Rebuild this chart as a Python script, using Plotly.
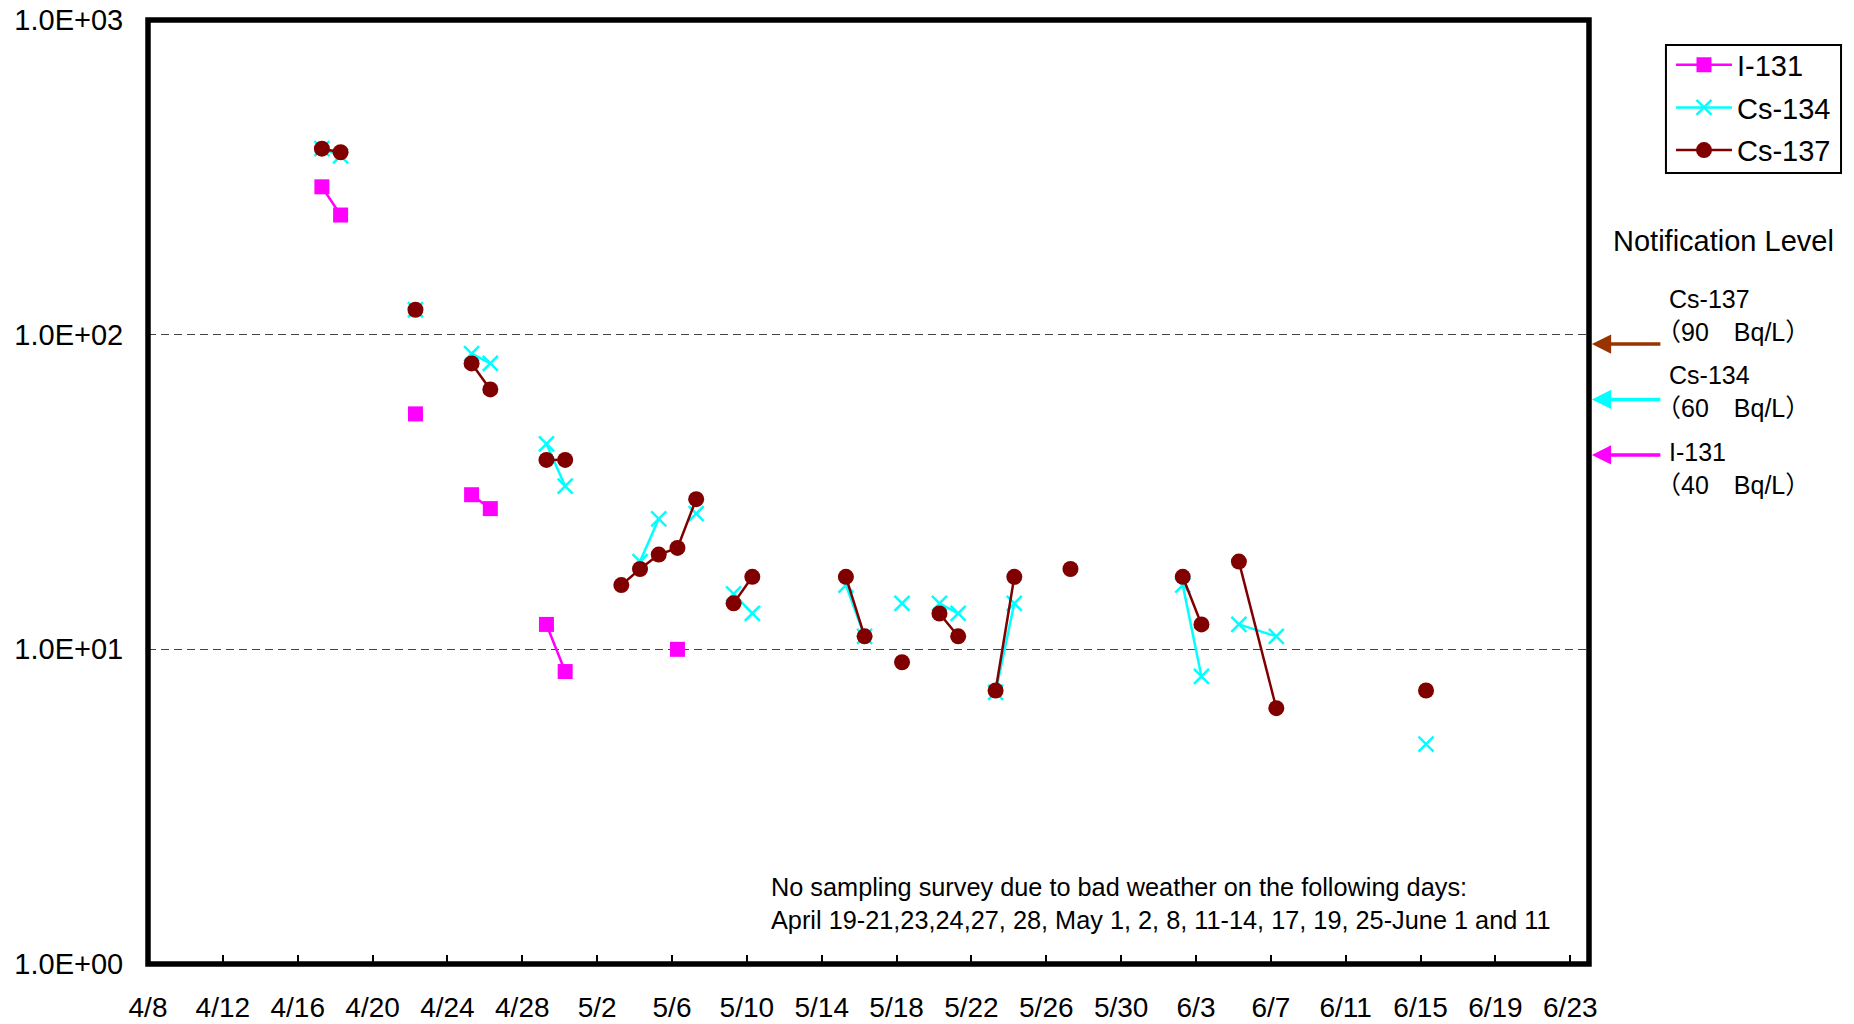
import numpy as np
import pandas as pd
import plotly.graph_objects as go

# ---------------- data ----------------
# sampling dates (rows without values break the connecting lines)
dates = ["2011-04-17", "2011-04-18", "2011-04-19", "2011-04-22", "2011-04-23",
         "2011-04-25", "2011-04-26", "2011-04-27", "2011-04-29", "2011-04-30",
         "2011-05-01", "2011-05-03", "2011-05-04", "2011-05-05", "2011-05-06",
         "2011-05-07", "2011-05-08", "2011-05-09", "2011-05-10", "2011-05-11",
         "2011-05-15", "2011-05-16", "2011-05-17", "2011-05-18", "2011-05-19",
         "2011-05-20", "2011-05-21", "2011-05-22", "2011-05-23", "2011-05-24",
         "2011-05-25", "2011-05-27", "2011-05-28", "2011-06-02", "2011-06-03",
         "2011-06-04", "2011-06-05", "2011-06-07", "2011-06-08", "2011-06-15"]

N = None
i131 = [295, 240, N, 56, N,
        31, 28, N, 12, 8.5,
        N, N, N, N, 10,
        N, N, N, N, N,
        N, N, N, N, N,
        N, N, N, N, N,
        N, N, N, N, N,
        N, N, N, N, N]

cs134 = [390, 370, N, 120, N,
         87, 81, N, 45, 33,
         N, N, 19, 26, N,
         27, N, 15, 13, N,
         16, 11, N, 14, N,
         14, 13, N, 7.3, 14,
         N, N, N, 16, 8.2,
         N, 12, 11, N, 5.0]

cs137 = [390, 380, N, 120, N,
         81, 67, N, 40, 40,
         N, 16, 18, 20, 21,
         30, N, 14, 17, N,
         17, 11, N, 9.1, N,
         13, 11, N, 7.4, 17,
         N, 18, N, 17, 12,
         N, 19, 6.5, N, 7.4]

series_names = ["I-131", "Cs-134", "Cs-137"]
series_colors = ["#FF00FF", "#00FFFF", "#800000"]

# notification levels (Bq/L)
levels = {"Cs-137": 90, "Cs-134": 60, "I-131": 40}
level_colors = {"Cs-137": "#993300", "Cs-134": "#00FFFF", "I-131": "#FF00FF"}

y_tickvals = [1, 10, 100, 1000]
y_ticktext = ["1.0E+00", "1.0E+01", "1.0E+02", "1.0E+03"]

x_start, x_end = "2011-04-08", "2011-06-24"

note_text = ("No sampling survey due to bad weather on the following days:<br>"
             "April 19-21,23,24,27, 28, May 1, 2, 8, 11-14, 17, 19, 25-June 1 and 11")

# ---------------- figure ----------------
FONT = "Arial, 'Liberation Sans', 'Noto Sans CJK JP', sans-serif"
x_pos = pd.to_datetime(dates) + pd.Timedelta(hours=7)   # samples plotted within the day

fig = go.Figure()

fig.add_trace(go.Scatter(
    x=x_pos, y=i131, name=series_names[0], mode="lines+markers", connectgaps=False,
    line=dict(color=series_colors[0], width=2.5),
    marker=dict(symbol="square", size=15, color=series_colors[0]),
    legendgroup="a"))
fig.add_trace(go.Scatter(
    x=x_pos, y=cs134, name=series_names[1], mode="lines+markers", connectgaps=False,
    line=dict(color=series_colors[1], width=2.5),
    marker=dict(symbol="x-thin", size=15, color=series_colors[1],
                line=dict(color=series_colors[1], width=2.5)),
    legendgroup="b"))
fig.add_trace(go.Scatter(
    x=x_pos, y=cs137, name=series_names[2], mode="lines+markers", connectgaps=False,
    line=dict(color=series_colors[2], width=2.5),
    marker=dict(symbol="circle", size=16, color=series_colors[2]),
    legendgroup="c"))

fig.update_xaxes(
    type="date", range=[x_start, x_end], automargin=False,
    tick0="2011-04-08", dtick=4 * 86400000, tickformat="%-m/%-d",
    ticks="inside", ticklen=9, tickwidth=1.5, tickcolor="black",
    showline=True, linewidth=5, linecolor="rgba(0,0,0,0)", mirror=True,
    showgrid=False, zeroline=False,
    tickfont=dict(family=FONT, size=28, color="black"),
    ticklabelstandoff=14,
)
fig.update_yaxes(
    type="log", range=[0, 3], automargin=False,
    tickvals=y_tickvals, ticktext=y_ticktext, ticks="",
    showline=True, linewidth=5, linecolor="rgba(0,0,0,0)", mirror=True,
    showgrid=True, gridcolor="#444444", gridwidth=1.2, griddash="8px,5px",
    zeroline=False,
    tickfont=dict(family=FONT, size=29, color="black"),
    ticklabelstandoff=14,
)

shapes = [
    # plot-area frame (centred on the plot edges)
    dict(type="rect", xref="paper", yref="paper", x0=0, x1=1, y0=0, y1=1,
         line=dict(color="black", width=5.5), fillcolor="rgba(0,0,0,0)", layer="above"),
    # legend frame
    dict(type="rect", xref="paper", yref="paper", x0=1.0534, x1=1.1749,
         y0=0.8379, y1=0.9735, line=dict(color="black", width=2),
         fillcolor="rgba(0,0,0,0)", layer="above"),
]

annotations = []
# "Notification Level" header
annotations.append(dict(
    text="Notification Level", xref="paper", yref="paper",
    x=1.093, y=0.766, xanchor="center", yanchor="middle", showarrow=False,
    font=dict(family=FONT, size=29, color="black")))

label_pos = {"Cs-137": 0.6875, "Cs-134": 0.6065, "I-131": 0.5254}
for name, val in levels.items():
    annotations.append(dict(
        text="", xref="paper", yref="y", x=1.002, y=np.log10(val), yshift=5,
        showarrow=True, ax=70, ay=0, axref="pixel", ayref="pixel",
        arrowhead=2, arrowsize=1.1, arrowwidth=3.5, arrowcolor=level_colors[name],
        standoff=0, startstandoff=0))
    annotations.append(dict(
        text=name, xref="paper", yref="paper",
        x=1.054, y=label_pos[name], yshift=16.5, xanchor="left", yanchor="middle",
        align="left", showarrow=False,
        font=dict(family=FONT, size=25, color="black")))
    annotations.append(dict(
        text=f"\uff08{val}\u3000Bq/L\uff09", xref="paper", yref="paper",
        x=1.054, y=label_pos[name], yshift=-16.5, xshift=-13,
        xanchor="left", yanchor="middle",
        align="left", showarrow=False,
        font=dict(family=FONT, size=25, color="black")))

annotations.append(dict(
    text=note_text, xref="paper", yref="paper", x=0.4307, y=0.0646,
    xanchor="left", yanchor="middle", align="left", showarrow=False,
    font=dict(family=FONT, size=25.3, color="black")))

fig.update_layout(
    width=1854, height=1024,
    margin=dict(l=148, r=265, t=20, b=60, autoexpand=False),
    paper_bgcolor="white", plot_bgcolor="white",
    font=dict(family=FONT, color="black"),
    showlegend=True,
    legend=dict(
        x=1.0569, y=0.9795, xanchor="left", yanchor="top",
        borderwidth=0, bgcolor="rgba(0,0,0,0)",
        font=dict(family=FONT, size=29, color="black"),
        traceorder="grouped", tracegroupgap=2, itemwidth=56,
    ),
    shapes=shapes,
    annotations=annotations,
)

fig.write_html("out.html", config={"displayModeBar": False},
               post_script="document.body.style.margin='0';")
